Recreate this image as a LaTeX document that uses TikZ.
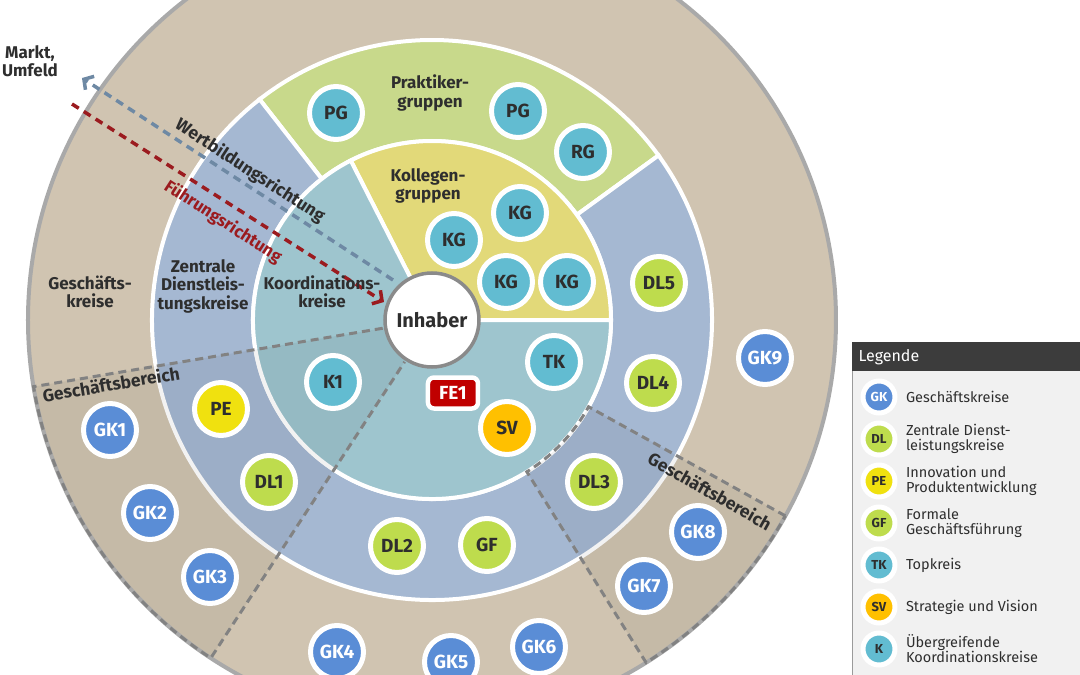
\documentclass[tikz,border=0pt]{standalone}
\usepackage{fontspec}
\setmainfont{Fira Sans}
\usepackage{tikz}
\usetikzlibrary{positioning,arrows.meta}
\definecolor{ringTan}{HTML}{D0C4B1}
\definecolor{ringBlue}{HTML}{A5B8D2}
\definecolor{ringGreen}{HTML}{C8D98B}
\definecolor{ringYellow}{HTML}{E2D979}
\definecolor{ringTeal}{HTML}{9EC5CE}
\definecolor{borderGray}{HTML}{A9A9A9}
\definecolor{lineGray}{HTML}{828282}
\definecolor{gkBlue}{HTML}{5A8DD6}
\definecolor{dlGreen}{HTML}{BEDC4D}
\definecolor{peYellow}{HTML}{F0E10F}
\definecolor{svOrange}{HTML}{FFC000}
\definecolor{tkTeal}{HTML}{62BCD1}
\definecolor{feRed}{HTML}{C00000}
\definecolor{inhGray}{HTML}{8A8A8A}
\definecolor{wertBlue}{HTML}{6E89A4}
\definecolor{fuehrRed}{HTML}{9B1B1F}
\definecolor{txtDark}{HTML}{2E2E2E}
\definecolor{legBack}{HTML}{F1F1F1}
\definecolor{legHead}{HTML}{3C3C3C}
\definecolor{legBorder}{HTML}{9A9A9A}
\tikzset{
  knot/.style={circle, draw=white, line width=5pt, minimum size=53pt, inner sep=0pt,
               text=txtDark, font=\bfseries\fontsize{19}{19}\selectfont},
  lknot/.style={circle, draw=white, line width=5pt, minimum size=32pt, inner sep=0pt,
                text=txtDark, font=\bfseries\fontsize{13}{13}\selectfont},
  gk/.style={fill=gkBlue, text=white},
  dl/.style={fill=dlGreen},
  pe/.style={fill=peYellow},
  sv/.style={fill=svOrange},
  tk/.style={fill=tkTeal},
  febox/.style={rectangle, rounded corners=6pt, fill=feRed, draw=white, line width=4.5pt,
                minimum width=50pt, minimum height=31pt, inner sep=0pt, text=white,
                font=\bfseries\fontsize{19}{19}\selectfont},
  sector/.style={draw=white, line width=4pt},
  area/.style={text=txtDark, align=center, font=\bfseries\fontsize{17}{18.5}\selectfont},
  bereich/.style={draw=lineGray, line width=3pt, dash pattern=on 8pt off 5pt},
  bereichtext/.style={text=txtDark, font=\bfseries\fontsize{17.5}{17.5}\selectfont},
  wert/.style={draw=wertBlue, line width=3.5pt, dash pattern=on 8pt off 6pt,
               -{Straight Barb[length=7pt, width=16pt]}},
  fuehr/.style={draw=fuehrRed, line width=3.5pt, dash pattern=on 8pt off 6pt,
                -{Straight Barb[length=7pt, width=16pt]}},
  legtext/.style={anchor=west, align=left, text=txtDark, font=\fontsize{14.5}{15}\selectfont},
}

\begin{document}
\begin{tikzpicture}[x=1pt, y=1pt]
  \useasboundingbox (-432,-355) rectangle (648,320);
  \clip (-432,-355) rectangle (648,320);

  % rings
  \fill[ringTan] (0,0) circle[radius=404pt];
  \path[sector, fill=ringGreen] (36:179pt) arc[start angle=36, end angle=128, radius=179pt]
    -- (128:280pt) arc[start angle=128, end angle=36, radius=280pt] -- cycle;
  \path[sector, fill=ringBlue] (128:179pt) arc[start angle=128, end angle=396, radius=179pt]
    -- (396:280pt) arc[start angle=396, end angle=128, radius=280pt] -- cycle;
  \path[sector, fill=ringYellow] (0,0) -- (0:179pt) arc[start angle=0, end angle=117, radius=179pt] -- cycle;
  \path[sector, fill=ringTeal] (0,0) -- (117:179pt) arc[start angle=117, end angle=360, radius=179pt] -- cycle;

  % Geschaeftsbereiche
  \fill[black, opacity=0.05] (189.5:48pt) arc[start angle=189.5, end angle=236.8, radius=48pt]
    -- (236.8:404pt) arc[start angle=236.8, end angle=189.5, radius=404pt] -- cycle;
  \fill[black, opacity=0.05] (-58:179pt) arc[start angle=-58, end angle=-29, radius=179pt]
    -- (-29:404pt) arc[start angle=-29, end angle=-58, radius=404pt] -- cycle;
  \draw[borderGray, line width=4pt] (0,0) circle[radius=404pt];
  \draw[bereich] (189.5:50pt) -- (189.5:404pt) arc[start angle=189.5, end angle=236.8, radius=404pt] -- (236.8:50pt);
  \draw[bereich] (-29:404pt) -- (-29:179pt) arc[start angle=-29, end angle=-58, radius=179pt] -- (-58:404pt)
    arc[start angle=-58, end angle=-29, radius=404pt];

  % Richtungen
  \coordinate (wbStart) at (-39,40);
  \coordinate (wbEnd) at (-350,242);
  \coordinate (frStart) at (-360,216);
  \coordinate (frEnd) at (-48,18);
  \draw[wert] (wbStart) -- (wbEnd);
  \draw[fuehr] (frStart) -- (frEnd);
  \node[text=txtDark, rotate=-33, font=\bfseries\fontsize{17.5}{17.5}\selectfont] (wbText) at (-182,149) {Wertbildungsrichtung};
  \node[text=fuehrRed, rotate=-33, font=\bfseries\fontsize{17}{17}\selectfont] (frText) at (-209,98) {Führungsrichtung};

  % Beschriftungen
  \node[area] (markt) at (-402,259) {Markt,\\Umfeld};
  \node[area] (gkText) at (-342,28) {Geschäfts-\\kreise};
  \node[area] (dlText) at (-229,34) {Zentrale\\Dienstleis-\\tungskreise};
  \node[area] (koText) at (-110,28) {Koordinations-\\kreise};
  \node[area] (pgText) at (-2,227) {Praktiker-\\gruppen};
  \node[area] (kgText) at (-4,134) {Kollegen-\\gruppen};
  \node[bereichtext, rotate=9.5] (gb1) at (-321,-64) {Geschäftsbereich};
  \node[bereichtext, rotate=-29.5] (gb2) at (278,-171) {Geschäftsbereich};

  % Kreise
  \node[circle, draw=inhGray, fill=white, line width=3.5pt, minimum size=94pt, inner sep=0pt,
        text=txtDark, font=\bfseries\fontsize{20}{20}\selectfont] (inh) at (0,0) {Inhaber};
  \node[knot, tk] (pg1) at (-96,207) {PG};
  \node[knot, tk] (pg2) at (86,209) {PG};
  \node[knot, tk] (rg) at (151,168) {RG};
  \node[knot, tk] (kg1) at (88,107) {KG};
  \node[knot, tk] (kg2) at (22,80) {KG};
  \node[knot, tk] (kg3) at (74,38) {KG};
  \node[knot, tk] (kg4) at (135,38) {KG};
  \node[knot, tk] (tk) at (122,-42) {TK};
  \node[knot, tk] (k1) at (-99,-62) {K1};
  \node[knot, sv] (sv) at (75,-108) {SV};
  \node[febox] (fe1) at (21,-73) {FE1};
  \node[knot, pe] (pe) at (-211,-89) {PE};
  \node[knot, dl] (dl1) at (-163,-162) {DL1};
  \node[knot, dl] (dl2) at (-35,-226) {DL2};
  \node[knot, dl] (gf) at (55,-225) {GF};
  \node[knot, dl] (dl3) at (162,-162) {DL3};
  \node[knot, dl] (dl4) at (221,-63) {DL4};
  \node[knot, dl] (dl5) at (227,37) {DL5};
  \node[knot, gk] (gk1) at (-322,-110) {GK1};
  \node[knot, gk] (gk2) at (-282,-193) {GK2};
  \node[knot, gk] (gk3) at (-222,-257) {GK3};
  \node[knot, gk] (gk4) at (-95,-332) {GK4};
  \node[knot, gk] (gk5) at (19,-342) {GK5};
  \node[knot, gk] (gk6) at (107,-327) {GK6};
  \node[knot, gk] (gk7) at (212,-266) {GK7};
  \node[knot, gk] (gk8) at (266,-212) {GK8};
  \node[knot, gk] (gk9) at (333,-38) {GK9};

  % Legende
  \draw[legBorder, fill=legBack, line width=1pt] (420,-22) rectangle (652,-360);
  \fill[legHead] (420,-22) rectangle (652,-51);
  \node[anchor=west, text=white, font=\fontsize{16}{16}\selectfont] (legHead) at (423,-37) {Legende};
  \node[lknot, gk] (lgk) at (447,-77) {GK};
  \node[lknot, dl, below=5pt of lgk] (ldl) {DL};
  \node[lknot, pe, below=5pt of ldl] (lpe) {PE};
  \node[lknot, dl, below=5pt of lpe] (lgf) {GF};
  \node[lknot, tk, below=5pt of lgf] (ltk) {TK};
  \node[lknot, sv, below=5pt of ltk] (lsv) {SV};
  \node[lknot, tk, below=5pt of lsv] (lk) {K};
  \node[legtext, right=5pt of lgk] {Geschäftskreise};
  \node[legtext, right=5pt of ldl] {Zentrale Dienst-\\leistungskreise};
  \node[legtext, right=5pt of lpe] {Innovation und\\Produktentwicklung};
  \node[legtext, right=5pt of lgf] {Formale\\Geschäftsführung};
  \node[legtext, right=5pt of ltk] {Topkreis};
  \node[legtext, right=5pt of lsv] {Strategie und Vision};
  \node[legtext, right=5pt of lk] {Übergreifende\\Koordinationskreise};
\end{tikzpicture}
\end{document}
